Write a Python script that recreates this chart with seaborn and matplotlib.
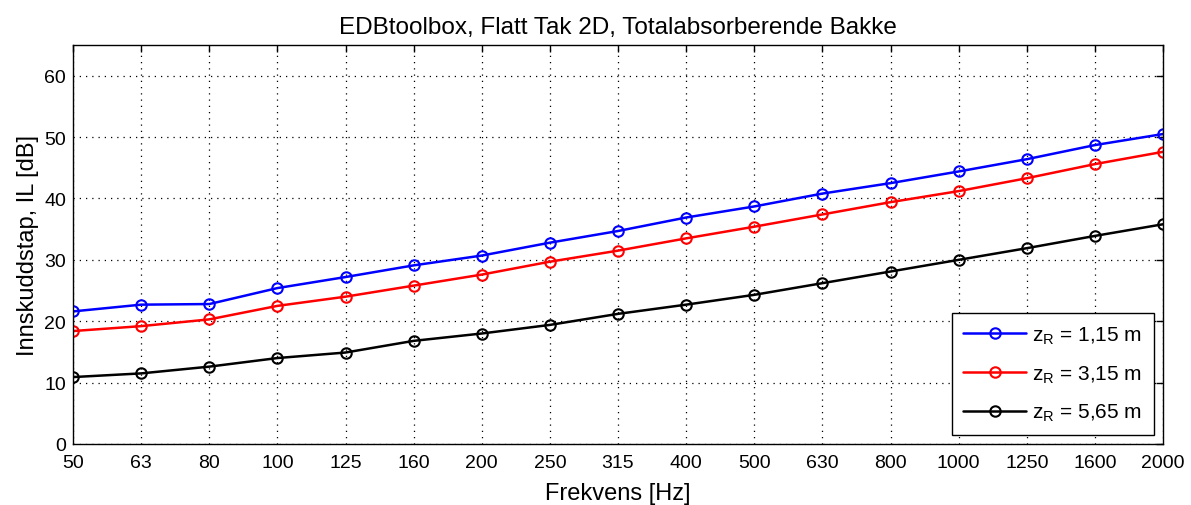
import matplotlib
matplotlib.use("Agg")
import matplotlib.pyplot as plt
import seaborn as sns
import pandas as pd

freqs = ["50", "63", "80", "100", "125", "160", "200", "250", "315", "400",
         "500", "630", "800", "1000", "1250", "1600", "2000"]
il_115 = [21.6, 22.7, 22.8, 25.4, 27.2, 29.1, 30.7, 32.8, 34.7, 36.9,
          38.7, 40.8, 42.5, 44.4, 46.4, 48.7, 50.5]
il_315 = [18.4, 19.2, 20.3, 22.5, 24.0, 25.8, 27.6, 29.7, 31.5, 33.5,
          35.4, 37.4, 39.4, 41.2, 43.3, 45.6, 47.6]
il_565 = [10.9, 11.5, 12.6, 14.0, 14.9, 16.8, 18.0, 19.4, 21.2, 22.7,
          24.3, 26.2, 28.1, 30.0, 31.9, 33.9, 35.8]
labels = [r"$\mathregular{z_R}$ = 1,15 m", r"$\mathregular{z_R}$ = 3,15 m",
          r"$\mathregular{z_R}$ = 5,65 m"]
colors = ["#0000ff", "#ff0000", "#000000"]

sns.set_theme(style="white")
plt.rcParams["font.family"] = ["Liberation Sans", "DejaVu Sans"]
plt.rcParams["mathtext.fontset"] = "custom"
plt.rcParams["mathtext.rm"] = "Liberation Sans"
plt.rcParams["text.color"] = "black"
plt.rcParams["axes.labelcolor"] = "black"

rows = []
for lab, vals in zip(labels, [il_115, il_315, il_565]):
    for f, v in zip(freqs, vals):
        rows.append({"freq": f, "IL": v, "serie": lab})
df = pd.DataFrame(rows)
df["freq"] = pd.Categorical(df["freq"], categories=freqs, ordered=True)
df["pos"] = df["freq"].cat.codes

fig = plt.figure(figsize=(11.91, 5.06), dpi=100)
ax = fig.add_axes([0.0613, 0.1206, 0.9152, 0.7884])

sns.lineplot(data=df, x="pos", y="IL", hue="serie", hue_order=labels,
             palette=colors, marker="o", markersize=7.5, linewidth=1.8,
             ax=ax, sort=False)
for line in ax.lines:
    c = line.get_color()
    line.set_markerfacecolor("none")
    line.set_markeredgecolor(c)
    line.set_markeredgewidth(1.5)

ax.set_xlim(0, len(freqs) - 1)
ax.set_ylim(0, 65)
ax.set_xticks(range(len(freqs)))
ax.set_xticklabels(freqs)
ax.set_yticks(range(0, 61, 10))
ax.grid(True, linestyle=(0, (1, 4)), color="black", linewidth=0.9)
for s in ax.spines.values():
    s.set_color("black")
    s.set_linewidth(1.0)
ax.tick_params(direction="in", length=5, width=1, top=True, right=True,
               labelsize=14, colors="black")
ax.tick_params(axis="x", pad=7)
ax.tick_params(axis="y", pad=5)

ax.set_title("EDBtoolbox, Flatt Tak 2D, Totalabsorberende Bakke",
             fontsize=17.5, pad=9, color="black")
ax.set_xlabel("Frekvens [Hz]", fontsize=17, labelpad=8, color="black")
ax.set_ylabel("Innskuddstap, IL [dB]", fontsize=17, labelpad=4, color="black")

handles, lbls = ax.get_legend_handles_labels()
for h in handles:
    h.set_markerfacecolor("none")
    h.set_markeredgecolor(h.get_color())
    h.set_markeredgewidth(1.5)
leg = ax.legend(handles, lbls, loc="lower right", fontsize=15,
                frameon=True, fancybox=False, edgecolor="black",
                framealpha=1, handlelength=3.0, handletextpad=0.3,
                borderaxespad=0.45, labelspacing=0.83, borderpad=0.55)
leg.get_frame().set_linewidth(1.0)

fig.savefig("out.png", dpi=100)
